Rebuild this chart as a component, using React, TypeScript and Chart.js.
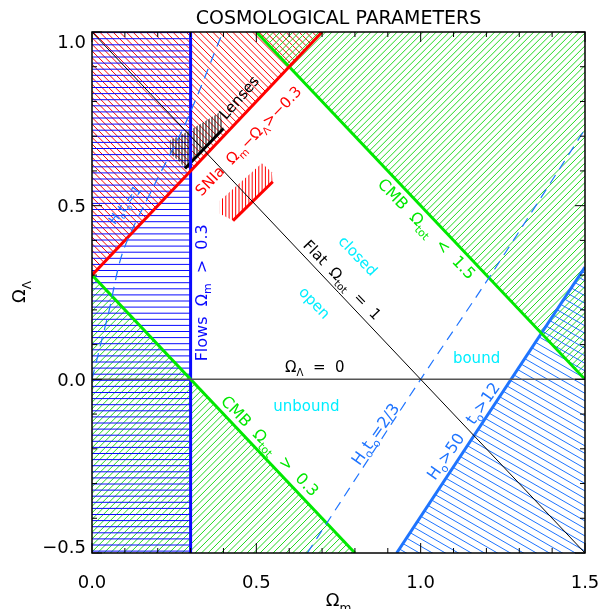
import React, { useEffect, useRef } from "react";
import { Chart, registerables } from "chart.js";
Chart.register(...registerables);

// ---------- data (Ωm, ΩΛ) ----------
const xMajorTicks = [0.0, 0.5, 1.0, 1.5];
const yMajorTicks = [-0.5, 0.0, 0.5, 1.0];
const xMinorTicks = [0.1, 0.2, 0.3, 0.4, 0.6, 0.7, 0.8, 0.9, 1.1, 1.2, 1.3, 1.4];
const yMinorTicks = [-0.4, -0.3, -0.2, -0.1, 0.1, 0.2, 0.3, 0.4, 0.6, 0.7, 0.8, 0.9];

const flowsLine = [{ x: 0.3, y: -0.5 }, { x: 0.3, y: 1.0 }];
const sniaLine = [{ x: 0.0, y: 0.3 }, { x: 0.7, y: 1.0 }];
const cmbUpperLine = [{ x: 0.5, y: 1.0 }, { x: 1.5, y: 0.0 }];
const cmbLowerLine = [{ x: 0.0, y: 0.3 }, { x: 0.8, y: -0.5 }];
const hubbleAgeLine = [{ x: 0.927, y: -0.5 }, { x: 1.5, y: 0.323 }];
const flatLine = [{ x: 0.0, y: 1.0 }, { x: 1.5, y: -0.5 }];
const lambdaZeroLine = [{ x: 0.0, y: 0.0 }, { x: 1.5, y: 0.0 }];
const h0t0TwoThirds = [{ x: 0.655, y: -0.5 }, { x: 1.0, y: 0.0 }, { x: 1.22, y: 0.31 }, { x: 1.5, y: 0.72 }];
const h0t0One = [{ x: 0.0, y: 0.0 }, { x: 0.024, y: 0.092 }, { x: 0.05, y: 0.19 }, { x: 0.095, y: 0.37 }, { x: 0.19, y: 0.56 }, { x: 0.286, y: 0.74 }, { x: 0.398, y: 1.0 }];
const lensEdge = [{ x: 0.283, y: 0.607 }, { x: 0.40, y: 0.722 }];
const sniaEdge = [{ x: 0.429, y: 0.457 }, { x: 0.55, y: 0.569 }];

const flowsRegion = [[0, -0.5], [0.3, -0.5], [0.3, 1.0], [0, 1.0]];
const sniaRegion = [[0, 0.3], [0.7, 1.0], [0, 1.0]];
const cmbUpperRegion = [[0.5, 1.0], [1.5, 1.0], [1.5, 0.0]];
const cmbLowerRegion = [[0, 0.3], [0.8, -0.5], [0, -0.5]];
const hubbleRegion = [[0.927, -0.5], [1.5, -0.5], [1.5, 0.323]];
const lensRegion = [[0.283, 0.607], [0.40, 0.722], [0.39, 0.77], [0.33, 0.735], [0.28, 0.708], [0.237, 0.688], [0.237, 0.65], [0.265, 0.628]];
const sniaSmallRegion = [[0.389, 0.477], [0.429, 0.457], [0.55, 0.569], [0.547, 0.596], [0.517, 0.622], [0.389, 0.514]];

const labelTexts = [
  "Lenses",
  "SNIa  Ω_{m}−Ω_{Λ}>−0.3",
  "Flows  Ω_{m}  >  0.3",
  "CMB  Ω_{tot}  <  1.5",
  "CMB  Ω_{tot}  >  0.3",
  "Flat  Ω_{tot}  =  1",
  "closed",
  "open",
  "Ω_{Λ}  =  0",
  "unbound",
  "bound",
  "H_{o}t_{o}=2/3",
  "H_{o}>50   t_{o}>12",
  "H_{o}t_{o}=1",
];
const labelX = [0.447, 0.475, 0.332, 1.019, 0.542, 0.762, 0.81, 0.678, 0.678, 0.652, 1.17, 0.861, 1.129, 0.1];
const labelY = [0.812, 0.687, 0.249, 0.434, -0.191, 0.287, 0.356, 0.221, 0.036, -0.076, 0.062, -0.157, -0.148, 0.503];

// ---------- styles ----------
const RED = "#ff0000";
const GREEN = "#00e800";
const GREEN_HATCH = "#22d822";
const BLUE = "#0a0aff";
const LBLUE = "#1e74ff";
const CYAN = "#00eeff";
const FONT = "'DejaVu Sans', sans-serif";

const labelStyle = [
  { a: -49, c: "#000", s: 15 },
  { a: -46, c: RED, s: 15 },
  { a: -90, c: BLUE, s: 16 },
  { a: 46, c: GREEN, s: 16 },
  { a: 46, c: GREEN, s: 16 },
  { a: 46, c: "#000", s: 15 },
  { a: 46, c: CYAN, s: 15 },
  { a: 46, c: CYAN, s: 15 },
  { a: 0, c: "#000", s: 15 },
  { a: 0, c: CYAN, s: 15 },
  { a: 0, c: CYAN, s: 15 },
  { a: -55, c: LBLUE, s: 16 },
  { a: -55, c: LBLUE, s: 16 },
  { a: -52, c: LBLUE, s: 13 },
];

type Seg = { t: string; sub: boolean };
function parseRich(s: string): Seg[] {
  const out: Seg[] = [];
  let i = 0;
  let buf = "";
  while (i < s.length) {
    if (s[i] === "_" && s[i + 1] === "{") {
      if (buf) out.push({ t: buf, sub: false });
      buf = "";
      const j = s.indexOf("}", i);
      out.push({ t: s.slice(i + 2, j), sub: true });
      i = j + 1;
    } else {
      buf += s[i];
      i++;
    }
  }
  if (buf) out.push({ t: buf, sub: false });
  return out;
}

function drawRich(ctx: CanvasRenderingContext2D, text: string, x: number, y: number, angle: number, size: number, color: string) {
  const segs = parseRich(text);
  const subSize = size * 0.68;
  let w = 0;
  const widths = segs.map((sg) => {
    ctx.font = `${sg.sub ? subSize : size}px ${FONT}`;
    const m = ctx.measureText(sg.t).width;
    w += m;
    return m;
  });
  ctx.save();
  ctx.translate(x, y);
  ctx.rotate((angle * Math.PI) / 180);
  ctx.fillStyle = color;
  ctx.textBaseline = "alphabetic";
  ctx.textAlign = "left";
  let cx = -w / 2;
  const base = size * 0.36;
  segs.forEach((sg, k) => {
    ctx.font = `${sg.sub ? subSize : size}px ${FONT}`;
    ctx.fillText(sg.t, cx, sg.sub ? base + size * 0.28 : base);
    cx += widths[k];
  });
  ctx.restore();
}

function hatch(chart: any, poly: number[][], angleDeg: number, spacing: number, color: string, lw: number) {
  const { ctx, chartArea: a, scales } = chart;
  const xs = scales.x, ys = scales.y;
  ctx.save();
  ctx.beginPath();
  ctx.rect(a.left, a.top, a.right - a.left, a.bottom - a.top);
  ctx.clip();
  ctx.beginPath();
  poly.forEach(([px, py], i) => {
    const X = xs.getPixelForValue(px);
    const Y = ys.getPixelForValue(py);
    if (i) ctx.lineTo(X, Y);
    else ctx.moveTo(X, Y);
  });
  ctx.closePath();
  ctx.clip();
  const th = (angleDeg * Math.PI) / 180;
  const dx = Math.cos(th), dy = Math.sin(th);
  const nx = -Math.sin(th), ny = Math.cos(th);
  const R = 1500;
  ctx.beginPath();
  for (let d = -R; d <= R; d += spacing) {
    const ox = a.left + nx * d, oy = a.top + ny * d;
    ctx.moveTo(ox - dx * R, oy - dy * R);
    ctx.lineTo(ox + dx * R, oy + dy * R);
  }
  ctx.strokeStyle = color;
  ctx.lineWidth = lw;
  ctx.stroke();
  ctx.restore();
}

const cosmoPlugin = {
  id: "cosmo",
  beforeDatasetsDraw(chart: any) {
    hatch(chart, sniaRegion, 45, 4.7, RED, 1);
    hatch(chart, cmbUpperRegion, -45, 4.6, GREEN_HATCH, 1);
    hatch(chart, cmbLowerRegion, -45, 4.6, GREEN_HATCH, 1);
    hatch(chart, flowsRegion, 0, 6.1, BLUE, 1);
    hatch(chart, hubbleRegion, 30, 6.5, LBLUE, 1);
    hatch(chart, lensRegion, 90, 3.0, "#000", 1);
    hatch(chart, sniaSmallRegion, 90, 3.3, RED, 1);
  },
  afterDatasetsDraw(chart: any) {
    const { ctx, chartArea: a, scales } = chart;
    const xs = scales.x, ys = scales.y;
    // frame
    ctx.save();
    ctx.strokeStyle = "#000";
    ctx.lineWidth = 1.5;
    ctx.strokeRect(a.left, a.top, a.right - a.left, a.bottom - a.top);
    ctx.lineWidth = 1;
    ctx.beginPath();
    const tick = (vals: number[], len: number) => {
      vals.forEach((v) => {
        const X = xs.getPixelForValue(v);
        ctx.moveTo(X, a.bottom); ctx.lineTo(X, a.bottom - len);
        ctx.moveTo(X, a.top); ctx.lineTo(X, a.top + len);
      });
    };
    const tickY = (vals: number[], len: number) => {
      vals.forEach((v) => {
        const Y = ys.getPixelForValue(v);
        ctx.moveTo(a.left, Y); ctx.lineTo(a.left + len, Y);
        ctx.moveTo(a.right, Y); ctx.lineTo(a.right - len, Y);
      });
    };
    tick(xMajorTicks, 10);
    tick(xMinorTicks, 5);
    tickY(yMajorTicks, 10);
    tickY(yMinorTicks, 5);
    ctx.stroke();

    // tick labels
    ctx.fillStyle = "#000";
    ctx.font = `18px ${FONT}`;
    ctx.textAlign = "center";
    ctx.textBaseline = "alphabetic";
    xMajorTicks.forEach((v) => {
      ctx.fillText(v.toFixed(1), xs.getPixelForValue(v), a.bottom + 35);
    });
    ctx.textAlign = "right";
    yMajorTicks.forEach((v) => {
      const Y = ys.getPixelForValue(v);
      const b = Math.min(Math.max(Y + 6.5, a.top + 16), a.bottom);
      ctx.fillText(v.toFixed(1).replace("-", "−"), a.left - 6, b);
    });

    // title
    ctx.textAlign = "center";
    ctx.font = `19px ${FONT}`;
    ctx.fillText("COSMOLOGICAL PARAMETERS", (a.left + a.right) / 2, 24);
    ctx.restore();

    // axis titles
    drawRich(ctx, "Ω_{m}", (a.left + a.right) / 2, 600, 0, 18, "#000");
    drawRich(ctx, "Ω_{Λ}", 19, 292, -90, 18, "#000");

    // labels
    labelTexts.forEach((t, i) => {
      const st = labelStyle[i];
      drawRich(ctx, t, xs.getPixelForValue(labelX[i]), ys.getPixelForValue(labelY[i]), st.a, st.s, st.c);
    });
  },
};

function lineDs(data: any[], color: string, width: number, dash: number[] = [], tension = 0) {
  return {
    data,
    borderColor: color,
    borderWidth: width,
    borderDash: dash,
    showLine: true,
    pointRadius: 0,
    fill: false,
    tension,
  };
}

export default function App() {
  const ref = useRef<HTMLCanvasElement | null>(null);
  useEffect(() => {
    document.body.style.margin = "0";
    const canvas = ref.current!;
    const chart = new Chart(canvas, {
      type: "scatter",
      data: {
        datasets: [
          lineDs(flatLine, "#000", 1),
          lineDs(lambdaZeroLine, "#555", 1.5),
          lineDs(h0t0TwoThirds, LBLUE, 1.2, [10, 7], 0.3),
          lineDs(h0t0One, LBLUE, 1.2, [10, 7], 0.3),
          lineDs(sniaLine, RED, 3),
          lineDs(cmbUpperLine, GREEN, 3),
          lineDs(cmbLowerLine, GREEN, 3),
          lineDs(flowsLine, BLUE, 3),
          lineDs(hubbleAgeLine, LBLUE, 3),
          lineDs(lensEdge, "#000", 3),
          lineDs(sniaEdge, RED, 3),
        ] as any,
      },
      options: {
        animation: false,
        responsive: false,
        layout: { padding: { left: 92, right: 15, top: 32, bottom: 56 } },
        plugins: { legend: { display: false }, tooltip: { enabled: false } },
        scales: {
          x: { type: "linear", min: 0, max: 1.5, display: false },
          y: { type: "linear", min: -0.5, max: 1.0, display: false },
        },
      },
      plugins: [cosmoPlugin],
    });
    return () => chart.destroy();
  }, []);
  return <canvas ref={ref} width={600} height={609} style={{ display: "block" }} />;
}
